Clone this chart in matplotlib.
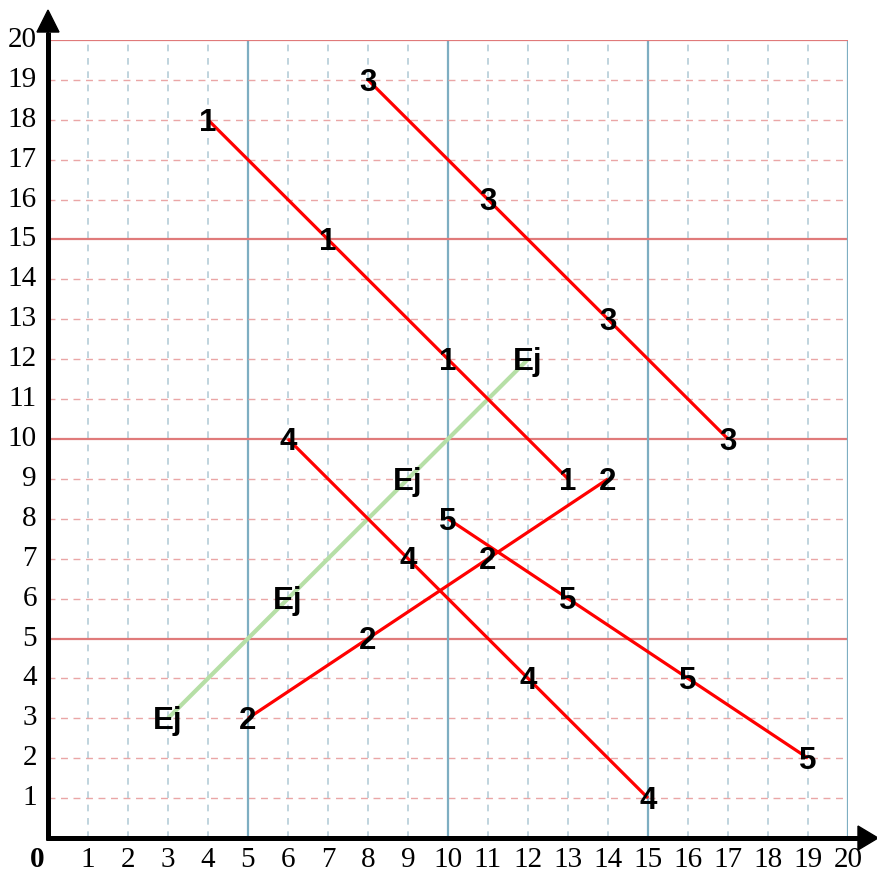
import matplotlib.pyplot as plt
from matplotlib.patches import FancyArrow

# lines drawn on the grid: label -> (x points, y points)
line_labels = ["1", "2", "3", "4", "5"]
line_x = [
    [4, 7, 10, 13],
    [5, 8, 11, 14],
    [8, 11, 14, 17],
    [6, 9, 12, 15],
    [10, 13, 16, 19],
]
line_y = [
    [18, 15, 12, 9],
    [3, 5, 7, 9],
    [19, 16, 13, 10],
    [10, 7, 4, 1],
    [8, 6, 4, 2],
]
ej_label = "Ej"
ej_x = [3, 6, 9, 12]
ej_y = [3, 6, 9, 12]

ticks = list(range(1, 21))

W, H = 877, 876
fig = plt.figure(figsize=(W / 100, H / 100), dpi=100)
ax = fig.add_axes([48 / W, 38 / H, 800 / W, 798 / H])
ax.set_xlim(0, 20)
ax.set_ylim(0, 20)
ax.axis("off")

# grid
for t in ticks:
    if t % 5 == 0:
        ax.plot([t, t], [0, 20], color="#7eaec2", lw=1.6, zorder=1)
        ax.plot([0, 20], [t, t], color="#e07a7a", lw=1.6, zorder=1)
    else:
        ax.plot([t, t], [0, 20], color="#b5cdd8", lw=1.2, ls=(0, (4, 4)), zorder=1)
        ax.plot([0, 20], [t, t], color="#eaa6a6", lw=1.0, ls=(0, (5, 4)), zorder=1)

# axes with arrows
ax.plot([0, 0], [-0.05, 20.2], color="black", lw=3.6, solid_capstyle="butt",
        clip_on=False, zorder=5)
ax.plot([-0.05, 20.3], [0, 0], color="black", lw=3.6, solid_capstyle="butt",
        clip_on=False, zorder=5)
ax.add_patch(FancyArrow(0, 20.1, 0, 0.65, width=0, head_width=0.55, head_length=0.55,
                        length_includes_head=True, color="black", clip_on=False, zorder=6))
ax.add_patch(FancyArrow(20.2, 0, 0.55, 0, width=0, head_width=0.6, head_length=0.5,
                        length_includes_head=True, color="black", clip_on=False, zorder=6))

# tick labels
tick_font = dict(family="Liberation Serif", fontsize=21, color="black")
for t in ticks:
    ax.text(t, -0.55, str(t), ha="center", va="center", clip_on=False, **tick_font)
    ax.text(-0.28, t, str(t), ha="right", va="center", clip_on=False, **tick_font)
ax.text(-0.27, -0.55, "0", ha="center", va="center", fontweight="bold",
        family="Liberation Serif", fontsize=21, clip_on=False)

# data lines
lab_font = dict(family="Liberation Sans", fontsize=22.5, fontweight="bold", color="black")
ax.plot(ej_x, ej_y, color="#b6dfa6", lw=3.0, zorder=3, solid_capstyle="butt")
for x, y in zip(ej_x, ej_y):
    ax.text(x, y - 0.07, ej_label, ha="center", va="center", zorder=7, **lab_font)
for lab, xs, ys in zip(line_labels, line_x, line_y):
    ax.plot(xs, ys, color="#ff0000", lw=2.3, zorder=4, solid_capstyle="butt")
    for x, y in zip(xs, ys):
        ax.text(x, y - 0.07, lab, ha="center", va="center", zorder=7, **lab_font)

fig.savefig("out.png", dpi=100)
